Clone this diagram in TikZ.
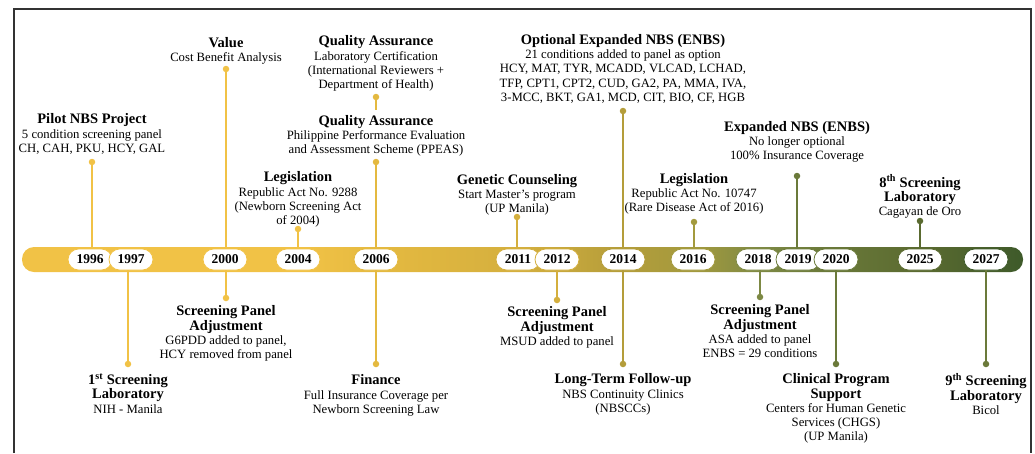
\documentclass[tikz,border=0pt]{standalone}
\usepackage{fontspec}
\setmainfont{Liberation Serif}
\usetikzlibrary{shapes,positioning}
\definecolor{tlyellow}{RGB}{241,194,70}
\definecolor{tlgold}{RGB}{228,185,64}
\definecolor{tlgoldb}{RGB}{212,175,62}
\definecolor{tlgoldc}{RGB}{180,157,58}
\definecolor{tlolive}{RGB}{163,154,62}
\definecolor{tlolivegreen}{RGB}{125,137,68}
\definecolor{tlgreen}{RGB}{107,122,58}
\definecolor{tldkgreen}{RGB}{90,106,48}
\definecolor{tlend}{RGB}{62,90,42}
\definecolor{framecolor}{RGB}{51,51,51}
\pgfdeclarehorizontalshading{nbsbar}{100bp}{color(0bp)=(tlyellow); color(25bp)=(tlyellow);
  color(39bp)=(tlyellow); color(43bp)=(tlgold); color(50bp)=(tlgoldb); color(55bp)=(tlgoldc);
  color(58.6bp)=(tlolive); color(62bp)=(tlolivegreen); color(65bp)=(tlgreen);
  color(70bp)=(tldkgreen); color(75bp)=(tlend); color(100bp)=(tlend)}
\newcommand{\evhead}[1]{{\fontsize{14.5}{14.3}\selectfont\bfseries #1}}

\begin{document}
\begin{tikzpicture}[x=1pt,y=-1pt,
  yearpill/.style={draw=#1, line width=0.8pt, fill=white, rounded corners=10.5pt,
    minimum width=44pt, minimum height=21pt, inner sep=0pt,
    font=\fontsize{13.5}{14}\selectfont\bfseries},
  evdot/.style={circle, fill=#1, inner sep=0pt, minimum size=6.5pt},
  stem/.style={draw=#1, line width=1.4pt},
  evtext/.style={align=center, inner sep=0pt, font=\fontsize{12.7}{14.3}\selectfont}]

\useasboundingbox (0,0) rectangle (1035,453);

% -------- Frame --------
\draw[framecolor, line width=1.5pt] (14,453) -- (14,9) -- (1031,9) -- (1031,453);

% -------- Timeline bar --------
\node[shading=nbsbar, rounded corners=12pt, minimum width=1001pt, minimum height=25pt,
  inner sep=0pt] (bar) at (522.5,259.5) {};

% -------- Event dots --------
\node[evdot=tlyellow] (d1996) at (92,162) {};
\node[evdot=tlyellow] (d1997) at (128,364) {};
\node[evdot=tlyellow] (d2000a) at (226,69) {};
\node[evdot=tlyellow] (d2000b) at (226,298) {};
\node[evdot=tlyellow] (d2004) at (298,229) {};
\node[evdot=tlgold] (d2006a) at (376,97) {};
\node[evdot=tlgold] (d2006b) at (376,162) {};
\node[evdot=tlgold] (d2006c) at (376,364) {};
\node[evdot=tlgoldb] (d2011) at (517,217) {};
\node[evdot=tlgoldb] (d2012) at (557,300) {};
\node[evdot=tlgoldc] (d2014a) at (623,111) {};
\node[evdot=tlgoldc] (d2014b) at (623,364) {};
\node[evdot=tlolive] (d2016) at (694,222) {};
\node[evdot=tlolivegreen] (d2018) at (760,297) {};
\node[evdot=tlgreen] (d2019) at (797,176) {};
\node[evdot=tlgreen] (d2020) at (836,364) {};
\node[evdot=tldkgreen] (d2025) at (920,221) {};
\node[evdot=tlgreen] (d2027) at (986,364) {};
\coordinate (q2006) at (376,110);

% -------- Year pills --------
\node[yearpill=tlyellow] (y1996) at (90,259.5) {1996};
\node[yearpill=tlyellow] (y1997) at (131,259.5) {1997};
\node[yearpill=tlyellow] (y2000) at (225,259.5) {2000};
\node[yearpill=tlyellow] (y2004) at (298,259.5) {2004};
\node[yearpill=tlgold] (y2006) at (376,259.5) {2006};
\node[yearpill=tlgoldb] (y2011) at (518,259.5) {2011};
\node[yearpill=tlgoldb] (y2012) at (557,259.5) {2012};
\node[yearpill=tlgoldc] (y2014) at (623,259.5) {2014};
\node[yearpill=tlolive] (y2016) at (693,259.5) {2016};
\node[yearpill=tlolivegreen] (y2018) at (758,259.5) {2018};
\node[yearpill=tlgreen] (y2019) at (798,259.5) {2019};
\node[yearpill=tlgreen] (y2020) at (836,259.5) {2020};
\node[yearpill=tldkgreen] (y2025) at (920,259.5) {2025};
\node[yearpill=tlend] (y2027) at (986,259.5) {2027};

% -------- Stems --------
\draw[stem=tlyellow] (d1996) -- (d1996 |- y1996.north);
\draw[stem=tlyellow] (d1997) -- (d1997 |- y1997.south);
\draw[stem=tlyellow] (d2000a) -- (d2000a |- y2000.north);
\draw[stem=tlyellow] (d2000b) -- (d2000b |- y2000.south);
\draw[stem=tlyellow] (d2004) -- (y2004);
\draw[stem=tlgold] (d2006a) -- (q2006);
\draw[stem=tlgold] (d2006b) -- (y2006);
\draw[stem=tlgold] (d2006c) -- (y2006);
\draw[stem=tlgoldb] (d2011) -- (d2011 |- y2011.north);
\draw[stem=tlgoldb] (d2012) -- (y2012);
\draw[stem=tlgoldc] (d2014a) -- (y2014);
\draw[stem=tlgoldc] (d2014b) -- (y2014);
\draw[stem=tlolive] (d2016) -- (d2016 |- y2016.north);
\draw[stem=tlolivegreen] (d2018) -- (d2018 |- y2018.south);
\draw[stem=tlgreen] (d2019) -- (d2019 |- y2019.north);
\draw[stem=tlgreen] (d2020) -- (y2020);
\draw[stem=tldkgreen] (d2025) -- (y2025);
\draw[stem=tlgreen] (d2027) -- (y2027);

% -------- Top events --------
\node[evtext, above=4pt of d1996] (t1996) {\evhead{Pilot NBS Project}\\5 condition screening panel\\CH, CAH, PKU, HCY, GAL};
\node[evtext, above=1pt of d2000a] (t2000a) {\evhead{Value}\\Cost Benefit Analysis};
\node[evtext, above=-2pt of d2004] (t2004) {\evhead{Legislation}\\Republic Act No. 9288\\(Newborn Screening Act\\of 2004)};
\node[evtext, above=2pt of d2006a] (t2006a) {\evhead{Quality Assurance}\\Laboratory Certification\\(International Reviewers +\\Department of Health)};
\node[evtext, above=2pt of d2006b] (t2006b) {\evhead{Quality Assurance}\\Philippine Performance Evaluation\\and Assessment Scheme (PPEAS)};
\node[evtext, above=-2pt of d2011] (t2011) {\evhead{Genetic Counseling}\\Start Master’s program\\(UP Manila)};
\node[evtext, above=4pt of d2014a] (t2014a) {\evhead{Optional Expanded NBS (ENBS)}\\21 conditions added to panel as option\\HCY, MAT, TYR, MCADD, VLCAD, LCHAD,\\TFP, CPT1, CPT2, CUD, GA2, PA, MMA, IVA,\\3-MCC, BKT, GA1, MCD, CIT, BIO, CF, HGB};
\node[evtext, above=4pt of d2016] (t2016) {\evhead{Legislation}\\Republic Act No. 10747\\(Rare Disease Act of 2016)};
\node[evtext, above=10pt of d2019] (t2019) {\evhead{Expanded NBS (ENBS)}\\No longer optional\\100\% Insurance Coverage};
\node[evtext, above=-1pt of d2025] (t2025) {\evhead{8\textsuperscript{th} Screening}\\\evhead{Laboratory}\\Cagayan de Oro};

% -------- Bottom events --------
\node[evtext, below=6pt of d1997] (t1997) {\evhead{1\textsuperscript{st} Screening}\\\evhead{Laboratory}\\NIH - Manila};
\node[evtext, below=4pt of d2000b] (t2000b) {\evhead{Screening Panel}\\\evhead{Adjustment}\\G6PDD added to panel,\\HCY removed from panel};
\node[evtext, below=7pt of d2006c] (t2006c) {\evhead{Finance}\\Full Insurance Coverage per\\Newborn Screening Law};
\node[evtext, below=3pt of d2012] (t2012) {\evhead{Screening Panel}\\\evhead{Adjustment}\\MSUD added to panel};
\node[evtext, below=6pt of d2014b] (t2014b) {\evhead{Long-Term Follow-up}\\NBS Continuity Clinics\\(NBSCCs)};
\node[evtext, below=4pt of d2018] (t2018) {\evhead{Screening Panel}\\\evhead{Adjustment}\\ASA added to panel\\ENBS = 29 conditions};
\node[evtext, below=6pt of d2020] (t2020) {\evhead{Clinical Program}\\\evhead{Support}\\Centers for Human Genetic\\Services (CHGS)\\(UP Manila)};
\node[evtext, below=6pt of d2027] (t2027) {\evhead{9\textsuperscript{th} Screening}\\\evhead{Laboratory}\\Bicol};

\end{tikzpicture}
\end{document}
